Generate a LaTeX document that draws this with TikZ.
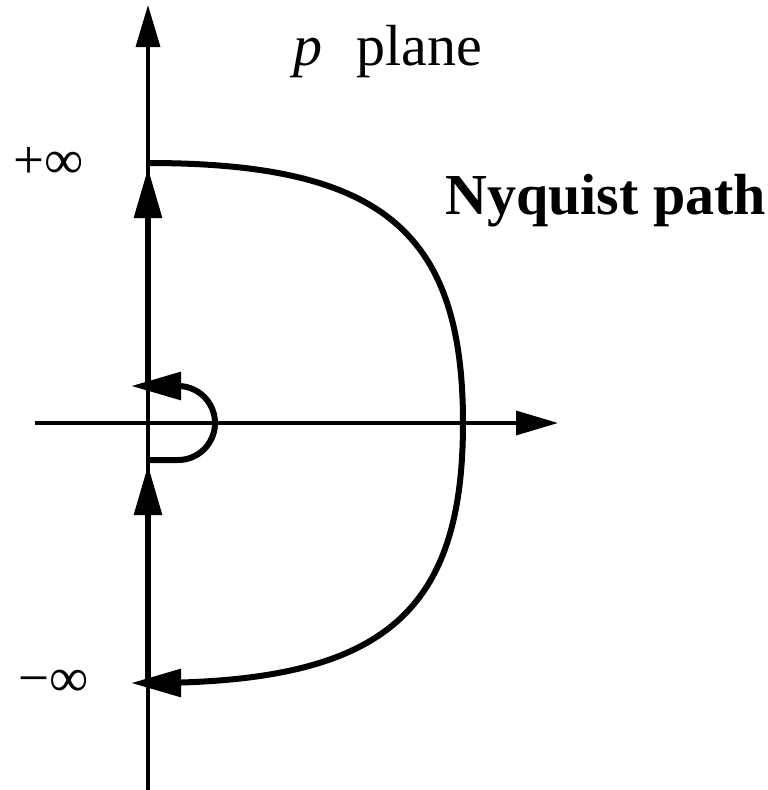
\documentclass[tikz,border=0pt]{standalone}
\usepackage{fontspec}
\setmainfont{Liberation Serif}
\usetikzlibrary{arrows.meta}
\begin{document}
\begin{tikzpicture}[x=1pt,y=-1pt,
  axis/.style={line width=3.4pt,-{Triangle[length=42pt,width=24pt]}},
  npath/.style={line width=6pt,line join=round,-{Triangle[length=50pt,width=27pt]}},
  lbl/.style={inner sep=0pt,anchor=base west,font=\fontsize{58}{60}\selectfont}]
\useasboundingbox (0,0) rectangle (768,790);
% coordinates
\coordinate (yb) at (148,790);
\coordinate (yt) at (148,5);
\coordinate (xl) at (35,423);
\coordinate (xr) at (558,423);
\coordinate (pinf) at (148,163);
\coordinate (minf) at (148,683);
\coordinate (lo) at (148,460);
\coordinate (up) at (148,386);
% axes
\draw[axis] (yb) -- (yt);
\draw[axis] (xl) -- (xr);
% Nyquist path
\draw[npath] (minf) -- ([yshift=-5pt]lo);
\draw[npath] (lo) -- (178,460) arc[start angle=-90,end angle=90,radius=37pt] -- ([xshift=-17pt]up);
\draw[npath] (up) -- ([yshift=-5pt]pinf);
\draw[npath] (pinf) .. controls (381,163) and (463,231) .. (463,423)
  .. controls (463,615) and (381,683) .. (minf) -- ([xshift=-17pt]minf);
% labels
\node[lbl] (pl) at (293,65) {\textit{p}};
\node[lbl] (plane) at (356,65) {plane};
\node[lbl] (nyq) at (445,214) {\textbf{Nyquist path}};
\node[lbl,font=\fontsize{55}{58}\selectfont] (pi) at (13,178) {+∞};
\node[lbl,font=\fontsize{55}{58}\selectfont] (mi) at (18,696) {−∞};
\end{tikzpicture}
\end{document}
